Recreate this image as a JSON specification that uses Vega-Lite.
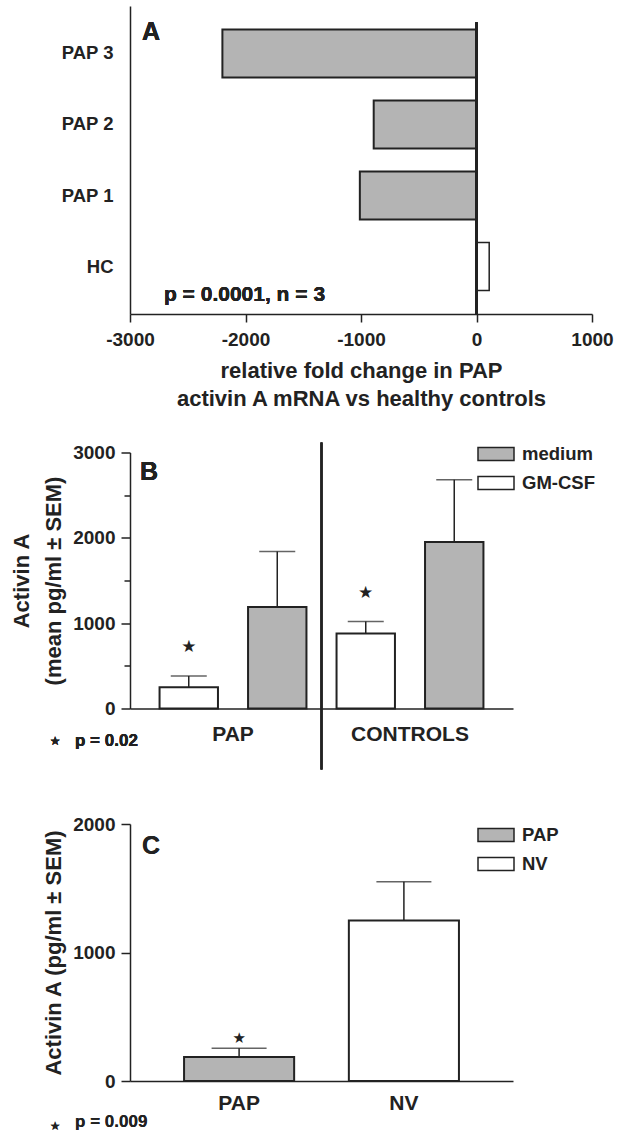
{
  "$schema": "https://vega.github.io/schema/vega-lite/v6.json",
  "background": "white",
  "padding": {"left": 10, "top": 6, "right": 4, "bottom": 0},
  "spacing": 24.5,
  "config": {
    "font": "Liberation Sans",
    "view": {"stroke": null},
    "axis": {
      "labelFont": "Liberation Sans", "labelFontSize": 19, "labelFontWeight": "bold", "labelColor": "#222",
      "titleFont": "Liberation Sans", "titleFontSize": 22, "titleFontWeight": "bold", "titleColor": "#222",
      "domainColor": "#222", "domainWidth": 1.5, "tickColor": "#222", "tickWidth": 1.5,
      "grid": false, "labelFlush": false, "labelOverlap": false
    },
    "legend": {"labelFont": "Liberation Sans", "labelFontSize": 18.5, "labelFontWeight": "bold", "labelColor": "#222"},
    "text": {"font": "Liberation Sans", "fontWeight": "bold", "color": "#222"}
  },
  "resolve": {
    "scale": {"x": "independent", "y": "independent", "fill": "independent"},
    "legend": {"fill": "independent"}
  },
  "vconcat": [
    {
      "width": 462,
      "height": 308,
      "data": {"values": [
        {"group": "PAP 3", "v": -2200},
        {"group": "PAP 2", "v": -890},
        {"group": "PAP 1", "v": -1010},
        {"group": "HC", "v": 110}
      ]},
      "encoding": {
        "y": {"field": "group", "type": "nominal", "sort": ["PAP 3", "PAP 2", "PAP 1", "HC"],
          "scale": {"paddingInner": 0.324, "paddingOuter": 0.33},
          "axis": {"title": null, "ticks": false, "labelPadding": 17, "labelFontSize": 18.5}}
      },
      "layer": [
        {
          "mark": {"type": "bar", "stroke": "#222"},
          "encoding": {
            "x": {"field": "v", "type": "quantitative",
              "scale": {"domain": [-3000, 1000], "nice": false},
              "axis": {"values": [-3000, -2000, -1000, 0, 1000], "labelExpr": "toString(datum.value)",
                "tickSize": 8, "labelPadding": 8.5,
                "title": ["relative fold change in PAP", "activin A mRNA vs healthy controls"],
                "titlePadding": 11, "titleLineHeight": 28}},
            "fill": {"condition": {"test": "datum.v < 0", "value": "#b4b4b4"}, "value": "white"},
            "strokeWidth": {"condition": {"test": "datum.v < 0", "value": 2}, "value": 1.5}
          }
        },
        {
          "mark": {"type": "rule", "color": "#222", "strokeWidth": 2.5},
          "encoding": {
            "x": {"datum": 0, "type": "quantitative"},
            "y": {"datum": "PAP 3", "bandPosition": -0.15},
            "y2": {"value": "height"}
          }
        },
        {
          "mark": {"type": "text", "text": "A", "fontSize": 25, "align": "left", "baseline": "middle", "dy": 3},
          "encoding": {
            "x": {"datum": -2896, "type": "quantitative"},
            "y": {"datum": "PAP 3", "bandPosition": 0}
          }
        },
        {
          "mark": {"type": "text", "text": "p = 0.0001, n = 3", "fontSize": 21, "align": "left", "baseline": "middle", "dy": 4},
          "encoding": {
            "x": {"datum": -2706, "type": "quantitative"},
            "y": {"datum": "HC", "bandPosition": 1}
          }
        }
      ]
    },
    {
      "width": 383,
      "height": 256,
      "data": {"values": [
        {"group": "PAP", "cond": "GM-CSF", "v": 250, "hi": 380, "star": 715},
        {"group": "PAP", "cond": "medium", "v": 1190, "hi": 1840, "star": null},
        {"group": "CONTROLS", "cond": "GM-CSF", "v": 880, "hi": 1020, "star": 1350},
        {"group": "CONTROLS", "cond": "medium", "v": 1950, "hi": 2680, "star": null}
      ]},
      "layer": [
        {
          "encoding": {
            "x": {"field": "group", "type": "nominal", "sort": ["PAP", "CONTROLS"],
              "scale": {"paddingInner": 0, "paddingOuter": 0.082},
              "axis": {"title": null, "ticks": false, "labelPadding": 15, "labelAngle": 0, "labelFontSize": 21}},
            "xOffset": {"field": "cond", "type": "nominal", "sort": ["GM-CSF", "medium"],
              "scale": {"paddingInner": 0.34, "paddingOuter": 0.17}}
          },
          "layer": [
            {
              "mark": {"type": "bar", "stroke": "#222", "strokeWidth": 2},
              "encoding": {
                "y": {"field": "v", "type": "quantitative",
                  "scale": {"domain": [0, 3000], "nice": false},
                  "axis": {"values": [0, 500, 1000, 1500, 2000, 2500, 3000],
                    "labelExpr": "datum.value % 1000 === 0 ? toString(datum.value) : ''",
                    "tickSize": {"condition": {"test": "datum.value % 1000 === 0", "value": 9}, "value": 6},
                    "labelPadding": 6,
                    "title": ["Activin A", "(mean pg/ml ± SEM)"],
                    "titleLineHeight": 32, "titlePadding": 7}},
                "fill": {"field": "cond", "type": "nominal",
                  "scale": {"domain": ["medium", "GM-CSF"], "range": ["#b4b4b4", "white"]},
                  "legend": {"title": null, "orient": "none", "legendX": 347, "legendY": -17.5,
                    "symbolType": "M-1,-0.3611H1V0.3611H-1Z", "symbolSize": 1296,
                    "symbolStrokeColor": "#222", "symbolStrokeWidth": 1.5,
                    "labelOffset": 7, "rowPadding": -7, "padding": 0}}
              }
            },
            {
              "mark": {"type": "rule", "color": "#222", "strokeWidth": 1.5},
              "encoding": {
                "y": {"field": "v", "type": "quantitative"},
                "y2": {"field": "hi"}
              }
            },
            {
              "mark": {"type": "tick", "color": "#222", "thickness": 1.5, "size": 36},
              "encoding": {"y": {"field": "hi", "type": "quantitative"}}
            },
            {
              "mark": {"type": "text", "text": "★", "font": "DejaVu Sans", "fontWeight": "normal", "fontSize": 17, "baseline": "middle"},
              "encoding": {"y": {"field": "star", "type": "quantitative"}}
            }
          ]
        },
        {
          "mark": {"type": "rule", "color": "#222", "strokeWidth": 2},
          "encoding": {
            "x": {"datum": "CONTROLS", "bandPosition": 0},
            "y": {"datum": 3118, "type": "quantitative"},
            "y2": {"datum": -715}
          }
        },
        {
          "mark": {"type": "text", "text": "B", "fontSize": 25, "align": "left", "baseline": "middle", "dx": -4.5},
          "encoding": {
            "x": {"datum": "PAP", "bandPosition": 0},
            "y": {"datum": 2767, "type": "quantitative"}
          }
        },
        {
          "mark": {"type": "text", "text": "★", "font": "DejaVu Sans", "fontWeight": "normal", "fontSize": 12, "align": "center", "baseline": "middle", "dx": -89.5},
          "encoding": {
            "x": {"datum": "PAP", "bandPosition": 0},
            "y": {"datum": -375, "type": "quantitative"}
          }
        },
        {
          "mark": {"type": "text", "text": "p = 0.02", "fontSize": 17, "align": "left", "baseline": "middle", "dx": -69.5},
          "encoding": {
            "x": {"datum": "PAP", "bandPosition": 0},
            "y": {"datum": -375, "type": "quantitative"}
          }
        }
      ]
    },
    {
      "width": 383,
      "height": 257,
      "data": {"values": [
        {"group": "PAP", "v": 187, "hi": 254, "star": 337},
        {"group": "NV", "v": 1250, "hi": 1550, "star": null}
      ]},
      "layer": [
        {
          "encoding": {
            "x": {"field": "group", "type": "nominal", "sort": ["PAP", "NV"],
              "scale": {"paddingInner": 0.332, "paddingOuter": 0.328},
              "axis": {"title": null, "ticks": false, "labelPadding": 11, "labelAngle": 0, "labelFontSize": 21}}
          },
          "layer": [
            {
              "mark": {"type": "bar", "stroke": "#222", "strokeWidth": 2},
              "encoding": {
                "y": {"field": "v", "type": "quantitative",
                  "scale": {"domain": [0, 2000], "nice": false},
                  "axis": {"values": [0, 1000, 2000], "format": "d", "tickSize": 9, "labelPadding": 6,
                    "title": "Activin A (pg/ml ± SEM)", "titlePadding": 7}},
                "fill": {"field": "group", "type": "nominal",
                  "scale": {"domain": ["PAP", "NV"], "range": ["#b4b4b4", "white"]},
                  "legend": {"title": null, "orient": "none", "legendX": 327, "legendY": -28,
                    "symbolType": "M-1,-0.3611H1V0.3611H-1Z", "symbolSize": 1296,
                    "symbolStrokeColor": "#222", "symbolStrokeWidth": 1.5,
                    "labelOffset": 7, "rowPadding": -7.5, "padding": 20}}
              }
            },
            {
              "mark": {"type": "rule", "color": "#222", "strokeWidth": 1.5},
              "encoding": {
                "y": {"field": "v", "type": "quantitative"},
                "y2": {"field": "hi"}
              }
            },
            {
              "mark": {"type": "tick", "color": "#222", "thickness": 1.5, "size": 55},
              "encoding": {"y": {"field": "hi", "type": "quantitative"}}
            },
            {
              "mark": {"type": "text", "text": "★", "font": "DejaVu Sans", "fontWeight": "normal", "fontSize": 15, "baseline": "middle"},
              "encoding": {"y": {"field": "star", "type": "quantitative"}}
            }
          ]
        },
        {
          "mark": {"type": "text", "text": "C", "fontSize": 25, "align": "left", "baseline": "middle", "dx": -42},
          "encoding": {
            "x": {"datum": "PAP", "bandPosition": 0},
            "y": {"datum": 1830, "type": "quantitative"}
          }
        },
        {
          "mark": {"type": "text", "text": "★", "font": "DejaVu Sans", "fontWeight": "normal", "fontSize": 12, "align": "center", "baseline": "middle", "dx": -129},
          "encoding": {
            "x": {"datum": "PAP", "bandPosition": 0},
            "y": {"datum": -348, "type": "quantitative"}
          }
        },
        {
          "mark": {"type": "text", "text": "p = 0.009", "fontSize": 17, "align": "left", "baseline": "middle", "dx": -109},
          "encoding": {
            "x": {"datum": "PAP", "bandPosition": 0},
            "y": {"datum": -317, "type": "quantitative"}
          }
        }
      ]
    }
  ]
}
